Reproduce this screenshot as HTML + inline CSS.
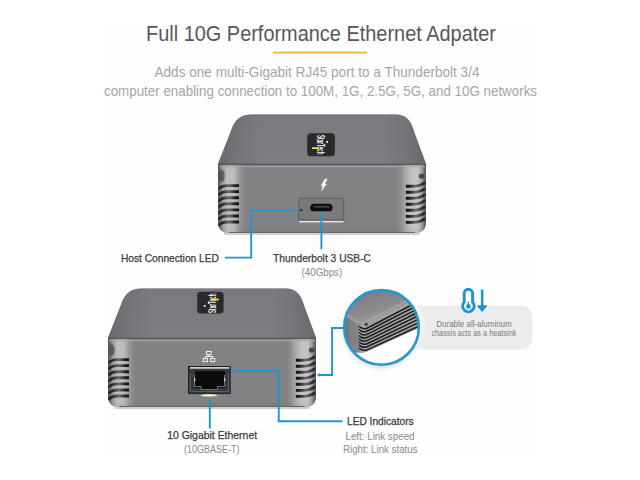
<!DOCTYPE html>
<html><head><meta charset="utf-8">
<style>
html,body{margin:0;padding:0;background:#fff;width:640px;height:480px;overflow:hidden}
svg{display:block}
text{font-family:"Liberation Sans",sans-serif}
</style></head><body>
<svg width="640" height="480" viewBox="0 0 640 480">
<defs>
  <linearGradient id="topface" x1="0" y1="0" x2="0" y2="1">
    <stop offset="0" stop-color="#797a7e"/>
    <stop offset="1" stop-color="#7c7d81"/>
  </linearGradient>
  <linearGradient id="front" gradientUnits="userSpaceOnUse" x1="0" y1="0" x2="208" y2="0">
    <stop offset="0" stop-color="#505052"/>
    <stop offset="0.008" stop-color="#6a6a6c"/>
    <stop offset="0.025" stop-color="#a0a0a2"/>
    <stop offset="0.045" stop-color="#bebec0"/>
    <stop offset="0.075" stop-color="#bcbcbe"/>
    <stop offset="0.1" stop-color="#9a9a9c"/>
    <stop offset="0.125" stop-color="#848486"/>
    <stop offset="0.14" stop-color="#828284"/>
    <stop offset="0.86" stop-color="#828284"/>
    <stop offset="0.88" stop-color="#8e8e90"/>
    <stop offset="0.9" stop-color="#a8a8aa"/>
    <stop offset="0.93" stop-color="#c2c2c4"/>
    <stop offset="0.96" stop-color="#c4c4c6"/>
    <stop offset="0.98" stop-color="#a0a0a2"/>
    <stop offset="0.992" stop-color="#6a6a6c"/>
    <stop offset="1" stop-color="#505052"/>
  </linearGradient>
  <linearGradient id="topside" gradientUnits="userSpaceOnUse" x1="0" y1="0" x2="208" y2="0">
    <stop offset="0" stop-color="#000" stop-opacity="0.16"/>
    <stop offset="0.1" stop-color="#000" stop-opacity="0.06"/>
    <stop offset="0.2" stop-color="#000" stop-opacity="0"/>
    <stop offset="0.8" stop-color="#000" stop-opacity="0"/>
    <stop offset="0.9" stop-color="#000" stop-opacity="0.06"/>
    <stop offset="1" stop-color="#000" stop-opacity="0.16"/>
  </linearGradient>
  <linearGradient id="frontv" x1="0" y1="0" x2="0" y2="1">
    <stop offset="0" stop-color="#000" stop-opacity="0"/>
    <stop offset="0.9" stop-color="#000" stop-opacity="0"/>
    <stop offset="1" stop-color="#000" stop-opacity="0.05"/>
  </linearGradient>
  <linearGradient id="ventL" gradientUnits="userSpaceOnUse" x1="0" y1="0" x2="21" y2="0">
    <stop offset="0" stop-color="#2e2e2e"/>
    <stop offset="0.18" stop-color="#262626"/>
    <stop offset="0.35" stop-color="#4a4a4a"/>
    <stop offset="0.55" stop-color="#6a6a6a"/>
    <stop offset="0.72" stop-color="#3a3a3a"/>
    <stop offset="0.85" stop-color="#1a1a1a"/>
    <stop offset="1" stop-color="#121212"/>
  </linearGradient>
  <linearGradient id="ventR" gradientUnits="userSpaceOnUse" x1="187.8" y1="0" x2="208" y2="0">
    <stop offset="0" stop-color="#121212"/>
    <stop offset="0.15" stop-color="#1a1a1a"/>
    <stop offset="0.3" stop-color="#3c3c3c"/>
    <stop offset="0.5" stop-color="#6a6a6a"/>
    <stop offset="0.7" stop-color="#484848"/>
    <stop offset="0.85" stop-color="#262626"/>
    <stop offset="1" stop-color="#2e2e2e"/>
  </linearGradient>
  <clipPath id="frontclip"><path d="M0,0 H208 V58 Q208,69 197,69 H11 Q0,69 0,58 Z"/></clipPath>
  <g id="body">
    <rect x="6" y="66" width="196" height="5" rx="2" fill="#000" opacity="0.18" filter="url(#blur1)"/>
    <path d="M0,0 L12,-30.5 C15.5,-41 20,-49.5 33,-49.5 L178,-49.5 C190,-49.5 193.5,-41 196.5,-31 L208,0 Z" fill="url(#topface)"/>
    <path d="M0,0 L12,-30.5 C15.5,-41 20,-49.5 33,-49.5 L178,-49.5 C190,-49.5 193.5,-41 196.5,-31 L208,0 Z" fill="url(#topside)" stroke="#000" stroke-opacity="0.12" stroke-width="1"/>
    <path d="M0,0 H208 V58 Q208,69 197,69 H11 Q0,69 0,58 Z" fill="url(#front)"/>
    <path d="M0,0 H208 V58 Q208,69 197,69 H11 Q0,69 0,58 Z" fill="url(#frontv)"/>
    <rect x="0" y="-0.1" width="208" height="1.3" fill="#5a5a5c"/>
    <rect x="1" y="1.8" width="206" height="1.4" fill="#a8a8aa" opacity="0.8"/>
    <path d="M11,68.5 H197" stroke="#666668" stroke-width="1"/>
    <g clip-path="url(#frontclip)" fill="none" stroke="url(#ventL)" stroke-width="2.9" stroke-linecap="butt">
<path d="M21,21.60 H10 Q2.2,21.60 0.7,25.60"/>
<path d="M21,27.67 H10 Q2.2,27.67 0.7,31.67"/>
<path d="M21,33.74 H10 Q2.2,33.74 0.7,37.74"/>
<path d="M21,39.81 H10 Q2.2,39.81 0.7,43.81"/>
<path d="M21,45.88 H10 Q2.2,45.88 0.7,49.88"/>
<path d="M21,51.95 H10 Q2.2,51.95 0.7,55.95"/>
<path d="M21,58.02 H10 Q2.2,58.02 0.7,62.02"/>
    </g>
    <g clip-path="url(#frontclip)" fill="none" stroke="url(#ventR)" stroke-width="2.9" stroke-linecap="butt">
<path d="M187.8,22.20 H194 Q203,22.20 207.3,18.20"/>
<path d="M187.8,28.23 H194 Q203,28.23 207.3,24.23"/>
<path d="M187.8,34.26 H194 Q203,34.26 207.3,30.26"/>
<path d="M187.8,40.29 H194 Q203,40.29 207.3,36.29"/>
<path d="M187.8,46.32 H194 Q203,46.32 207.3,42.32"/>
<path d="M187.8,52.35 H194 Q203,52.35 207.3,48.35"/>
<path d="M187.8,58.38 H194 Q203,58.38 207.3,54.38"/>
    </g>
    <ellipse cx="203.6" cy="12" rx="2.8" ry="2.6" fill="#3a3a3c" opacity="0.85" filter="url(#blur1)"/>
    <ellipse cx="3.6" cy="12" rx="3.2" ry="6" fill="#4a4a4c" opacity="0.7" filter="url(#blur1)"/>
  </g>
  <clipPath id="circ"><circle cx="381.5" cy="327.4" r="37.3"/></clipPath>
  <filter id="shadow" x="-30%" y="-30%" width="160%" height="160%">
    <feGaussianBlur stdDeviation="2.5"/>
  </filter>
  <filter id="blur1" x="-20%" y="-20%" width="140%" height="140%">
    <feGaussianBlur stdDeviation="0.6"/>
  </filter>
  <linearGradient id="cside" gradientUnits="userSpaceOnUse" x1="343" y1="0" x2="360" y2="0">
    <stop offset="0" stop-color="#6e6e70"/>
    <stop offset="0.5" stop-color="#808082"/>
    <stop offset="1" stop-color="#848486"/>
  </linearGradient>
  <linearGradient id="ctop" gradientUnits="userSpaceOnUse" x1="380" y1="290" x2="390" y2="320">
    <stop offset="0" stop-color="#7e7e82"/>
    <stop offset="0.6" stop-color="#8e8e91"/>
    <stop offset="1" stop-color="#a2a2a4"/>
  </linearGradient>
</defs>

<rect x="104" y="23" width="432" height="432" fill="#fdfdfd"/>
<!-- title -->
<text x="146" y="40.6" font-size="22.2" fill="#58585a" textLength="350" lengthAdjust="spacingAndGlyphs">Full 10G Performance Ethernet Adpater</text>
<rect x="273" y="51.6" width="94" height="2" fill="#ebbe3e"/>
<text x="154.5" y="77.3" font-size="14.5" fill="#a6a6a6" textLength="325" lengthAdjust="spacingAndGlyphs">Adds one multi-Gigabit RJ45 port to a Thunderbolt 3/4</text>
<text x="104" y="95.6" font-size="14.5" fill="#a6a6a6" textLength="433" lengthAdjust="spacingAndGlyphs">computer enabling connection to 100M, 1G, 2.5G, 5G, and 10G networks</text>

<!-- top device -->
<g transform="translate(218,164)">
  <use href="#body"/>
  <!-- logo -->
  <rect x="89.2" y="-30.7" width="27.7" height="23" rx="3.5" fill="#2a2a2c"/>
  <text transform="translate(99,-29) rotate(90)" font-size="10.5" font-weight="bold" fill="#f0f0f0" textLength="19.5" lengthAdjust="spacingAndGlyphs">StarTech</text>
  <circle cx="109.1" cy="-22.1" r="1" fill="#fff"/>
  <path d="M94,-15.9 H100.5" stroke="#e6dc3c" stroke-width="1.8"/>
  <!-- thunderbolt icon -->
  <path d="M107,15 L109.3,15 L106.7,20.1 L108.4,20.1 L103.4,27.2 L104.9,22 L102.9,22 Z" fill="#fafafa" stroke="#fafafa" stroke-width="0.3" stroke-linejoin="round"/>
  <!-- port recess -->
  <rect x="80.4" y="33.7" width="45.8" height="24.6" rx="2" fill="#7a7a7c"/>
  <path d="M80.9,57.5 V35.6 Q80.9,34.2 82.4,34.2 H124.3 Q125.7,34.2 125.7,35.6 V57.5" fill="none" stroke="#606062" stroke-width="1"/>
  <rect x="81.4" y="54.5" width="43.8" height="2.2" fill="#6a6a6c"/>
  <rect x="81" y="57" width="44.6" height="1.4" fill="#e6e6e6"/>
  <rect x="92.2" y="39.7" width="22.4" height="7.9" rx="3.9" fill="#0e0e0e"/>
  <path d="M94.5,47.4 Q95,47.9 96.5,47.9 H110.5 Q112,47.9 112.5,47.4" fill="none" stroke="#9a9a9c" stroke-width="0.6" opacity="0.8"/>
  <rect x="95.2" y="41.8" width="16.4" height="2" rx="1" fill="#3e3e40"/>
  <circle cx="83.3" cy="46.2" r="1.1" fill="#1a1a1a"/>
</g>

<!-- bottom device -->
<g transform="translate(108,338)">
  <use href="#body"/>
  <rect x="89.2" y="-46.2" width="26.4" height="21.8" rx="3.5" fill="#2a2a2c"/>
  <text transform="translate(107.6,-25) rotate(-90)" font-size="10.5" font-weight="bold" fill="#f0f0f0" textLength="19.5" lengthAdjust="spacingAndGlyphs">StarTech</text>
  <circle cx="96.7" cy="-31.9" r="1" fill="#fff"/>
  <path d="M103.5,-38.5 H110.8" stroke="#e6dc3c" stroke-width="1.8"/>
  <!-- network icon -->
  <g fill="none" stroke="#f4f4f4" stroke-width="1">
    <rect x="98.7" y="13.5" width="4.4" height="3.3"/>
    <rect x="95.2" y="20.4" width="4.2" height="3.3"/>
    <rect x="102.6" y="20.4" width="4.2" height="3.3"/>
    <path d="M100.9,16.8 V18.5 M97.3,20.4 V18.5 H104.7 V20.4"/>
  </g>
  <!-- RJ45 -->
  <rect x="80" y="28" width="42.7" height="28.1" fill="#1a1c1e"/>
  <rect x="81" y="31" width="40.7" height="24.5" fill="#33393d"/>
  <rect x="81.8" y="29" width="39.6" height="1.8" fill="#cdcdcd"/>
  <path d="M87,33 H117 V50 H109.5 V52 H93.5 V50 H87 Z" fill="#0b0b0c"/>
  <path d="M82,36 V53.5 H120.5 V36" fill="none" stroke="#5e6468" stroke-width="0.9"/>
  <path d="M86.5,37 V48.5 H93 V51.5 H109.5 V48.5 H116.5 V37" fill="none" stroke="#788084" stroke-width="0.9"/>
  <rect x="86" y="40" width="1.3" height="3.2" fill="#d0d0d0"/>
  <rect x="116" y="40" width="1.3" height="3.2" fill="#d0d0d0"/>
  <ellipse cx="101" cy="57.3" rx="8.5" ry="1.3" fill="#f2ecb8" filter="url(#blur1)"/>
</g>

<!-- pill -->
<rect x="395" y="305.8" width="137.5" height="43.8" rx="11" fill="#ececec"/>
<!-- circle -->
<circle cx="381.5" cy="327.4" r="40.5" fill="#fff" filter="url(#shadow)"/>
<circle cx="381" cy="330" r="38" fill="#000" opacity="0.14" filter="url(#shadow)"/>
<circle cx="381.5" cy="327.4" r="37.3" fill="#fff"/>
<g clip-path="url(#circ)">
  <!-- device body -->
  <path d="M338,286 H432 V321.8 L367,351.5 Q362,353.5 356,352.5 Q348,350 343,344 L338,340 Z" fill="#868688"/>
  <!-- top face -->
  <path d="M338,286 H432 V291 L368,324 Q360,327 352,321 L338,311 Z" fill="url(#ctop)"/>
  <!-- top edge highlight -->
  <path d="M340,309.5 L352,318.5 Q359,324 367,321.5 L432,288" fill="none" stroke="#a4a4a6" stroke-width="2.2" opacity="0.8"/>
  <!-- fin region -->
  <path d="M359,326 Q360,324.5 366,324.5 L432,290 V321.8 L367,351.5 Q362,353 359.5,352 Z" fill="#a2a2a4"/>
  <!-- left side face -->
  <path d="M338,311 L352,321 Q357,325 359,326 L359.5,352 Q356,352.5 350,350 Q345,347 338,340 Z" fill="url(#cside)"/>
  <circle cx="366.2" cy="324.2" r="1.5" fill="#3a3a3c"/>
  <g stroke="#1c1c1c" stroke-width="1.5" fill="none">
<path d="M359.3,326.08 Q360.5,328.98 366,328.68 L432,294.36"/>
<path d="M359.3,329.17 Q360.5,332.07 366,331.77 L432,298.05"/>
<path d="M359.3,332.27 Q360.5,335.17 366,334.87 L432,301.74"/>
<path d="M359.3,335.36 Q360.5,338.26 366,337.96 L432,305.42"/>
<path d="M359.3,338.46 Q360.5,341.36 366,341.06 L432,309.11"/>
<path d="M359.3,341.55 Q360.5,344.45 366,344.15 L432,312.80"/>
<path d="M359.3,344.64 Q360.5,347.54 366,347.24 L432,316.49"/>
<path d="M359.3,347.74 Q360.5,350.64 366,350.34 L432,320.18"/>
  </g>
</g>
<circle cx="381.5" cy="327.4" r="37.3" fill="none" stroke="#2996cc" stroke-width="2.6"/>

<!-- thermometer + arrow -->
<path d="M464.2,302.3 V293.5 A4.2,4.2 0 0 1 472.6,293.5 V302.3 A5.7,5.7 0 1 1 464.2,302.3 Z" fill="none" stroke="#1a93d2" stroke-width="2.9"/>
<circle cx="468.4" cy="306.4" r="2.3" fill="#1a93d2"/>
<rect x="467.75" y="301.5" width="1.3" height="4" fill="#1a93d2"/>
<rect x="480.9" y="289.5" width="2.5" height="17" fill="#1a93d2"/>
<path d="M477.9,305.9 L486.4,305.9 L482.15,311.2 Z" fill="#1a93d2" stroke="#1a93d2" stroke-width="1.2" stroke-linejoin="round"/>

<text x="436.3" y="327" font-size="9.4" fill="#7a7a7a" textLength="75.4" lengthAdjust="spacingAndGlyphs">Durable all-aluminum</text>
<text x="431.4" y="336.4" font-size="9.4" fill="#7a7a7a" textLength="85" lengthAdjust="spacingAndGlyphs">chassis acts as a heatsink</text>

<!-- callout lines -->
<g fill="none" stroke="#2194cb" stroke-width="1.9">
  <path d="M296,210.5 H251.2 V257.6 H225"/>
  <path d="M321.4,212.5 V249.4"/>
  <path d="M344,328 H332.1 V375 H319"/>
  <path d="M231,371 H278.75 V421.2 H342.5"/>
  <path d="M209.8,400 V428.5"/>
</g>
<circle cx="319" cy="375" r="1.5" fill="#2194cb"/>

<!-- labels -->
<text x="121" y="261.9" font-size="11" fill="#3a3a3a" stroke="#3a3a3a" stroke-width="0.25" textLength="97.8" lengthAdjust="spacingAndGlyphs">Host Connection LED</text>
<text x="273.1" y="261.7" font-size="11" fill="#3a3a3a" stroke="#3a3a3a" stroke-width="0.25" textLength="97.9" lengthAdjust="spacingAndGlyphs">Thunderbolt 3 USB-C</text>
<text x="301.6" y="275.5" font-size="11" fill="#8a8a8a" textLength="40.6" lengthAdjust="spacingAndGlyphs">(40Gbps)</text>
<text x="167.2" y="439.3" font-size="11" fill="#3a3a3a" stroke="#3a3a3a" stroke-width="0.25" textLength="89.9" lengthAdjust="spacingAndGlyphs">10 Gigabit Ethernet</text>
<text x="184" y="453.4" font-size="11" fill="#8a8a8a" textLength="55.4" lengthAdjust="spacingAndGlyphs">(10GBASE-T)</text>
<text x="347" y="425" font-size="11" fill="#3a3a3a" stroke="#3a3a3a" stroke-width="0.25" textLength="66.7" lengthAdjust="spacingAndGlyphs">LED Indicators</text>
<text x="345.5" y="439.5" font-size="11" fill="#8a8a8a" textLength="69" lengthAdjust="spacingAndGlyphs">Left: Link speed</text>
<text x="343" y="453" font-size="11" fill="#8a8a8a" textLength="74.5" lengthAdjust="spacingAndGlyphs">Right: Link status</text>
</svg>
</body></html>
